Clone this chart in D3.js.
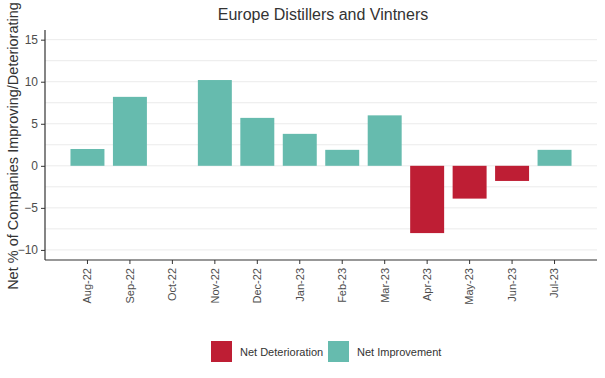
<!DOCTYPE html>
<html><head><meta charset="utf-8">
<script src="https://cdn.jsdelivr.net/npm/d3@7"></script>
<style>body{margin:0;background:#fff;font-family:"Liberation Sans",Arial,sans-serif;}</style>
</head><body><svg id="c" width="605" height="378"></svg>
<script>
const months = ["Aug-22","Sep-22","Oct-22","Nov-22","Dec-22","Jan-23","Feb-23","Mar-23","Apr-23","May-23","Jun-23","Jul-23"];
const values = [2.0, 8.2, 0, 10.2, 5.7, 3.8, 1.9, 6.0, -8.0, -3.9, -1.8, 1.9];
const yTicks = [-10, -5, 0, 5, 10, 15];
const legendLabels = ["Net Deterioration", "Net Improvement"];
const colors = {"Net Deterioration": "#be1e34", "Net Improvement": "#66bbae"};

const svg = d3.select("#c");
const L = 45, R = 597, T = 30, B = 260;
const y = d3.scaleLinear().domain([-11.2, 16.15]).range([B, T]);
const x = d3.scaleBand().domain(months).range([L, R]).paddingInner(0.2).paddingOuter(0.6);

// grid
const gridVals = d3.range(-10, 16, 2.5);
svg.append("g").selectAll("line").data(gridVals).join("line")
  .attr("x1", L).attr("x2", R).attr("y1", d => y(d)).attr("y2", d => y(d))
  .attr("stroke", "#ebebeb").attr("stroke-width", 1);

// bars
svg.append("g").selectAll("rect").data(months).join("rect")
  .attr("x", d => x(d)).attr("width", x.bandwidth())
  .attr("y", (d, i) => y(Math.max(0, values[i])))
  .attr("height", (d, i) => Math.abs(y(values[i]) - y(0)))
  .attr("fill", (d, i) => values[i] < 0 ? colors["Net Deterioration"] : colors["Net Improvement"]);

// y axis
const ya = svg.append("g").attr("transform", `translate(${L},0)`)
  .call(d3.axisLeft(y).tickValues(yTicks).tickSize(4).tickPadding(3));
ya.select(".domain").remove();
ya.selectAll("line").attr("stroke", "#333");
ya.selectAll("text").attr("fill", "#4d4d4d").style("font-size", "12px").style("font-family", "Liberation Sans, Arial, sans-serif");
svg.append("line").attr("x1", L).attr("x2", L).attr("y1", T).attr("y2", B).attr("stroke", "#333").attr("stroke-width", 1.2);

// x axis
const xa = svg.append("g").attr("transform", `translate(0,${B})`)
  .call(d3.axisBottom(x).tickSize(4).tickPadding(4));
xa.select(".domain").remove();
xa.selectAll("line").attr("stroke", "#333");
xa.selectAll("text").attr("fill", "#4d4d4d").style("font-size", "11px").style("font-family", "Liberation Sans, Arial, sans-serif")
  .attr("transform", "rotate(-90)").attr("text-anchor", "end").attr("dx", "0").attr("dy", "0.35em").attr("y", 0).attr("x", -8);
svg.append("line").attr("x1", L).attr("x2", R).attr("y1", B).attr("y2", B).attr("stroke", "#333").attr("stroke-width", 1.2);

// title
svg.append("text").attr("x", 323).attr("y", 20).attr("text-anchor", "middle")
  .attr("fill", "#333").style("font-size", "16px").text("Europe Distillers and Vintners");

// y label
svg.append("text").attr("transform", `translate(18,146) rotate(-90)`).attr("text-anchor", "middle")
  .attr("fill", "#333").style("font-size", "14.5px").text("Net % of Companies Improving/Deteriorating");

// legend
const lg = svg.append("g");
const lx = [211, 328];
legendLabels.forEach((lab, i) => {
  lg.append("rect").attr("x", lx[i]).attr("y", 341).attr("width", 21).attr("height", 21).attr("fill", colors[lab]);
  lg.append("text").attr("x", lx[i] + 29).attr("y", 355.5).attr("fill", "#333").style("font-size", "11px").text(lab);
});
</script></body></html>
